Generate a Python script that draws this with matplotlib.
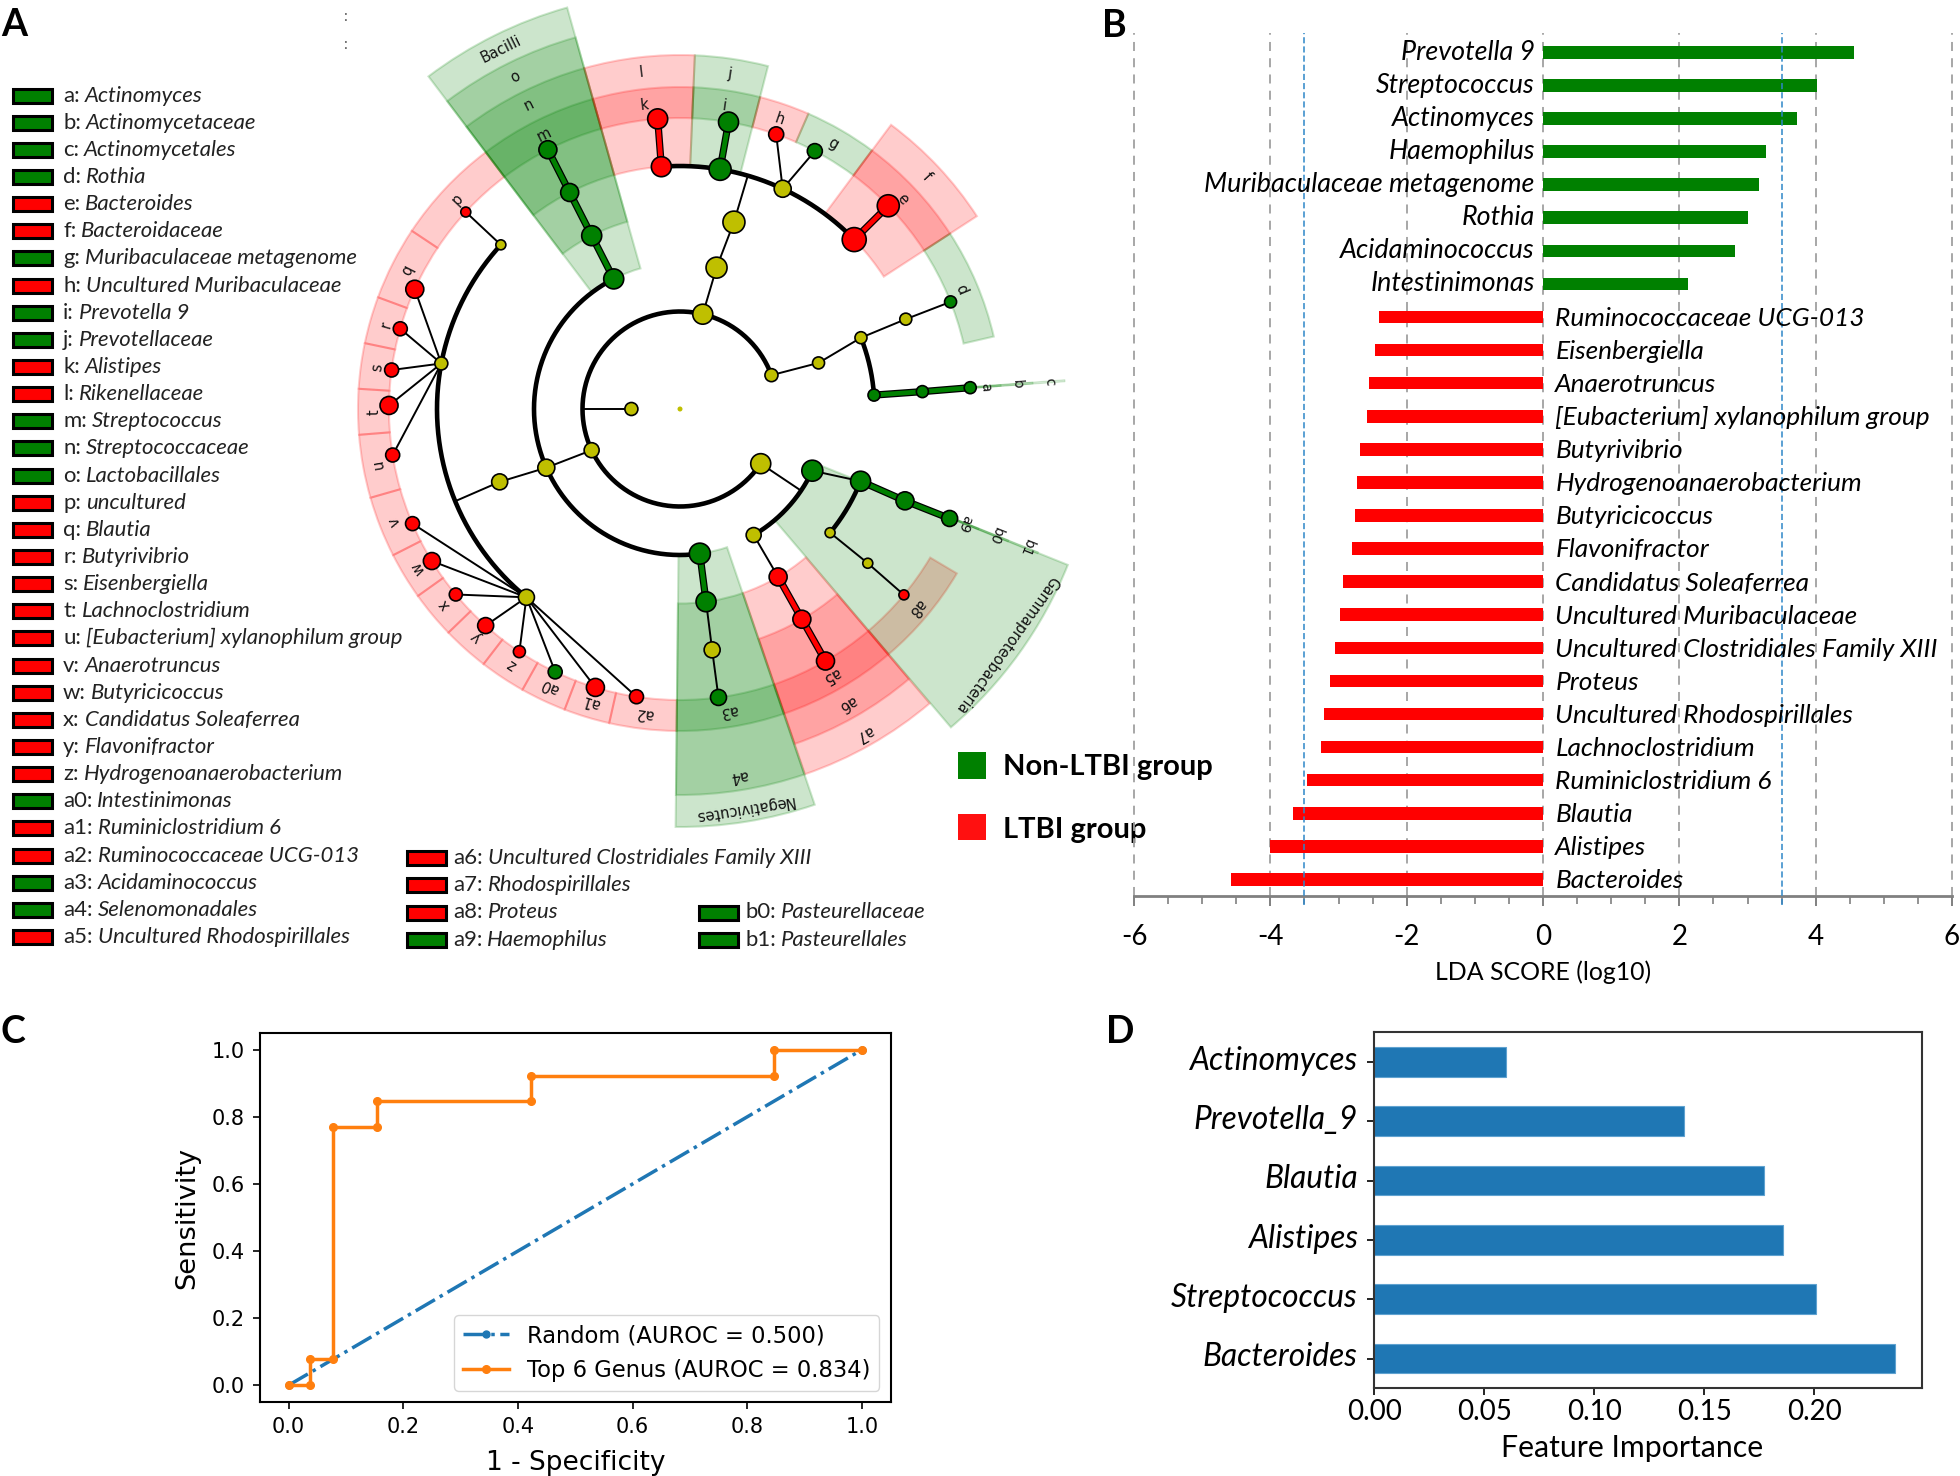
# -*- coding: utf-8 -*-
import numpy as np
import matplotlib
matplotlib.use('Agg')
import matplotlib.pyplot as plt
from matplotlib.patches import Rectangle
from matplotlib.transforms import ScaledTranslation

plt.rcParams['font.family'] = ['Lato', 'DejaVu Sans']
plt.rcParams['axes.unicode_minus'] = False

W, H = 1960, 1476
GREEN = '#008000'
RED = '#ff0000'
YELLOW = '#bfbf00'

# ---- panel A: cladogram, angles in degrees clockwise from top
level_r = [0, 48.6, 97.5, 146, 194.5, 243, 291]

# name, start, end, inner r, outer r, colour, label r
sector_names = ['p', 'q', 'r', 's', 't', 'u', 'v', 'w', 'x', 'y', 'z', 'a0', 'a1', 'a2',
                'Bacilli', 'o', 'n', 'm', 'l', 'k', 'j', 'i', 'h', 'g', 'f', 'e', 'd',
                'a8', 'Gammaproteobacteria', 'a7', 'a6', 'a5', 'Negativicutes', 'a4', 'a3']
sector_start = [303.6, 290.3, 281.8, 273.6, 265.4, 254, 243, 234.5, 226, 217.6, 209.3, 201, 192.7, 180.6,
                322.9, 322.9, 322.9, 322.9, 344.3, 344.3, 2.4, 2.4, 14.4, 23.5, 36.6, 36.6, 57,
                120.7, 111.9, 139.7, 139.7, 139.7, 161.2, 161.2, 161.2]
sector_end = [322.9, 303.6, 290.3, 281.8, 273.6, 265.4, 254, 243, 234.5, 226, 217.6, 209.3, 201, 192.7,
              344.3, 344.3, 344.3, 344.3, 362.4, 362.4, 14.4, 14.4, 23.5, 36.6, 57, 57, 77,
              139.6, 139.6, 161.1, 161.1, 161.1, 180.6, 180.6, 180.6]
sector_r0 = [291] * 14 + [146, 194.5, 243, 291, 243, 291, 243, 291, 291, 291, 243, 291, 291,
                          291, 146, 194.5, 243, 291, 146, 194.5, 291]
sector_r1 = [322] * 14 + [417, 386, 354, 322, 354, 322, 354, 322, 322, 322, 354, 322, 322,
                          322, 418, 386, 354, 322, 418, 386, 322]
sector_col = ['r'] * 14 + ['g', 'g', 'g', 'g', 'r', 'r', 'g', 'g', 'r', 'g', 'r', 'r', 'g',
                           'r', 'g', 'r', 'r', 'r', 'g', 'g', 'g']
sector_label_r = [306] * 14 + [402, 371, 339, 306, 339, 306, 339, 306, 306, 306, 339, 306, 306,
                               309, 403, 373, 339, 306, 404, 372, 306]

# narrow sectors, only a sliver is visible
sliver_names = ['a', 'b', 'c', 'a9', 'b0', 'b1']
sliver_theta = [85.8, 85.8, 85.8, 111.9, 111.9, 111.9]
sliver_r1 = [322, 354, 386, 322, 354, 386]
sliver_label_r = [306, 338, 371, 307, 340, 373]

# nodes
node_theta = [0, 270,
              13.5, 69.7, 124.1, 245,
              333, 14.5, 71.6, 115, 149.7, 172.2, 246.3,
              333, 16.1, 68.5, 85.9, 111.8, 129.5, 149.7, 172.3, 248,
              333, 355.6, 9.5, 25, 45.8, 68.3, 85.9, 112.2, 129.4, 149.9, 172.4, 219.2, 280.8, 312.5,
              333, 355.6, 9.6, 19.3, 27.6, 45.7, 68.4, 85.8, 112.1, 129.7, 150, 172.4,
              188.6, 196.9, 205.4, 213.5, 221.9, 230.4, 238.5, 246.8, 260.9, 270.7, 277.7, 286, 294.3, 312.6]
node_level = [0, 1] + [2] * 4 + [3] * 7 + [4] * 9 + [5] * 14 + [6] * 26
node_col = ['y', 'y',
            'y', 'y', 'y', 'y',
            'g', 'y', 'y', 'g', 'y', 'g', 'y',
            'g', 'y', 'y', 'g', 'g', 'y', 'r', 'g', 'y',
            'g', 'r', 'g', 'y', 'r', 'y', 'g', 'g', 'y', 'r', 'y', 'y', 'y', 'y',
            'g', 'r', 'g', 'r', 'g', 'r', 'g', 'g', 'g', 'r', 'r', 'g',
            'r', 'r', 'g', 'r', 'r', 'r', 'r', 'r', 'r', 'r', 'r', 'r', 'r', 'r']
node_d = [5, 13,
          20, 13, 20, 15,
          20, 21, 12, 21, 15, 21, 17,
          20, 22, 12, 12, 20, 10, 18, 20, 16,
          18, 20, 22, 17, 24, 12, 12, 18, 10, 18, 16, 16, 13, 10,
          18, 20, 20, 15, 15, 22, 12, 12, 16, 10, 18, 16,
          14, 18, 14, 12, 16, 13, 17, 14, 14, 18, 14, 14, 18, 10]

# thick black arcs: start, end, level
arc_start = [69.7, -27, 115, 68.5, 111.8, -4.4, 219.2]
arc_end = [-235.9, -187.8, 149.7, 85.9, 129.5, 45.8, 312.5]
arc_level = [2, 3, 3, 4, 4, 5, 5]

# thin black branches
thin_theta = [[270, 270], [13.5, 14.5, 16.1, 16.2], [69.7, 71.6, 68.5, 68.3, 68.4],
              [245, 246.3, 248, 247.7], [124.1, 124], [115, 111.8], [129.5, 129.4, 129.7],
              [172.3, 172.4, 172.4], [149.7, 149.7], [25, 19.3], [25, 27.6], [312.5, 312.6],
              [280.8, 260.9], [280.8, 270.7], [280.8, 277.7], [280.8, 286], [280.8, 294.3],
              [219.2, 188.6], [219.2, 196.9], [219.2, 205.4], [219.2, 213.5], [219.2, 221.9],
              [219.2, 230.4], [219.2, 238.5], [219.2, 246.8]]
thin_level = [[1, 2], [2, 3, 4, 5], [2, 3, 4, 5, 6],
              [2, 3, 4, 5], [2, 3], [3, 4], [4, 5, 6],
              [4, 5, 6], [3, 4], [5, 6], [5, 6], [5, 6]] + [[5, 6]] * 13

# thick coloured branches
chain_theta = [[333, 333, 333, 333], [355.6, 355.6], [9.5, 9.6], [45.8, 45.7], [85.9, 85.9, 85.8],
               [111.8, 112.2, 112.1], [149.7, 149.9, 150], [172.2, 172.3]]
chain_level = [[3, 4, 5, 6], [5, 6], [5, 6], [5, 6], [4, 5, 6], [4, 5, 6], [4, 5, 6], [3, 4]]
chain_col = ['g', 'r', 'g', 'r', 'g', 'g', 'r', 'g']

# legend of panel A
legend_keys = ['a', 'b', 'c', 'd', 'e', 'f', 'g', 'h', 'i', 'j', 'k', 'l', 'm', 'n', 'o', 'p', 'q', 'r', 's',
               't', 'u', 'v', 'w', 'x', 'y', 'z', 'a0', 'a1', 'a2', 'a3', 'a4', 'a5',
               'a6', 'a7', 'a8', 'a9', 'b0', 'b1']
legend_names = ['Actinomyces', 'Actinomycetaceae', 'Actinomycetales', 'Rothia', 'Bacteroides', 'Bacteroidaceae',
                'Muribaculaceae metagenome', 'Uncultured Muribaculaceae', 'Prevotella 9', 'Prevotellaceae',
                'Alistipes', 'Rikenellaceae', 'Streptococcus', 'Streptococcaceae', 'Lactobacillales', 'uncultured',
                'Blautia', 'Butyrivibrio', 'Eisenbergiella', 'Lachnoclostridium', '[Eubacterium] xylanophilum group',
                'Anaerotruncus', 'Butyricicoccus', 'Candidatus Soleaferrea', 'Flavonifractor',
                'Hydrogenoanaerobacterium', 'Intestinimonas', 'Ruminiclostridium 6', 'Ruminococcaceae UCG-013',
                'Acidaminococcus', 'Selenomonadales', 'Uncultured Rhodospirillales',
                'Uncultured Clostridiales Family XIII', 'Rhodospirillales', 'Proteus', 'Haemophilus',
                'Pasteurellaceae', 'Pasteurellales']
legend_cols = list('ggggrrgrggrrgggrrrrrrrrrrr') + list('grrggr') + list('rrrggg')

# ---- panel B
lda_names = ['Prevotella 9', 'Streptococcus', 'Actinomyces', 'Haemophilus', 'Muribaculaceae metagenome',
             'Rothia', 'Acidaminococcus', 'Intestinimonas',
             'Ruminococcaceae UCG-013', 'Eisenbergiella', 'Anaerotruncus', '[Eubacterium] xylanophilum group',
             'Butyrivibrio', 'Hydrogenoanaerobacterium', 'Butyricicoccus', 'Flavonifractor',
             'Candidatus Soleaferrea', 'Uncultured Muribaculaceae', 'Uncultured Clostridiales Family XIII',
             'Proteus', 'Uncultured Rhodospirillales', 'Lachnoclostridium', 'Ruminiclostridium 6', 'Blautia',
             'Alistipes', 'Bacteroides']
lda_values = [4.56, 4.02, 3.73, 3.27, 3.17, 3.0, 2.82, 2.13,
              -2.41, -2.46, -2.55, -2.58, -2.68, -2.73, -2.76, -2.80, -2.93, -2.98, -3.05, -3.13,
              -3.22, -3.26, -3.46, -3.67, -4.0, -4.57]

# ---- panel C
fpr = [0, 0.038, 0.038, 0.077, 0.077, 0.154, 0.154, 0.423, 0.423, 0.846, 0.846, 1]
tpr = [0, 0, 0.077, 0.077, 0.769, 0.769, 0.846, 0.846, 0.923, 0.923, 1, 1]

# ---- panel D
imp_names = ['Bacteroides', 'Streptococcus', 'Alistipes', 'Blautia', 'Prevotella_9', 'Actinomyces']
imp_values = [0.2369, 0.201, 0.1858, 0.1773, 0.1409, 0.0601]


def px_axes(fig, left, top, right, bottom, **kw):
    return fig.add_axes([left / W, 1 - bottom / H, (right - left) / W, (bottom - top) / H], **kw)


def col(c):
    return {'g': GREEN, 'r': RED, 'y': YELLOW}[c]


fig = plt.figure(figsize=(W / 100, H / 100), dpi=100)

# overlay in pixel coordinates for loose labels and legends
ov = px_axes(fig, 0, 0, W, H)
ov.set_xlim(0, W)
ov.set_ylim(H, 0)
ov.axis('off')

# cladogram
RMAX = 440
CX, CY = 680, 409
ax = px_axes(fig, CX - RMAX, CY - RMAX, CX + RMAX, CY + RMAX, projection='polar')
ax.set_theta_zero_location('N')
ax.set_theta_direction(-1)
ax.set_ylim(0, RMAX)
ax.axis('off')
ax.patch.set_alpha(0)

for name, t0, t1, r0, r1, c, lr in zip(sector_names, sector_start, sector_end, sector_r0, sector_r1,
                                       sector_col, sector_label_r):
    ax.bar(np.radians((t0 + t1) / 2), r1 - r0, width=np.radians(t1 - t0), bottom=r0, color=col(c),
           edgecolor=col(c), alpha=0.2, linewidth=1.5, zorder=1)
    mid = (t0 + t1) / 2
    ax.text(np.radians(mid), lr, name, rotation=-mid, rotation_mode='anchor', ha='center', va='center',
            fontsize=10.5, family='DejaVu Sans', color='#111111', zorder=8)

for name, t, r1, lr in zip(sliver_names, sliver_theta, sliver_r1, sliver_label_r):
    ax.bar(np.radians(t), r1 - 291, width=np.radians(0.3), bottom=291, color=GREEN, edgecolor=GREEN,
           alpha=0.15, linewidth=0.8, zorder=1)
    ax.text(np.radians(t), lr, name, rotation=-t, rotation_mode='anchor', ha='center', va='center',
            fontsize=10, family='DejaVu Sans', color='#111111', zorder=8)

for t0, t1, lv in zip(arc_start, arc_end, arc_level):
    th = np.radians(np.linspace(t0, t1, 200))
    ax.plot(th, np.full(200, level_r[lv]), color='k', lw=3.3, solid_capstyle='round', zorder=3)

for ts, ls in zip(thin_theta, thin_level):
    ax.plot(np.radians(ts), [level_r[i] for i in ls], color='k', lw=1.4, zorder=3)

for ts, ls, c in zip(chain_theta, chain_level, chain_col):
    rs = [level_r[i] for i in ls]
    ax.plot(np.radians(ts), rs, color='k', lw=5.2, zorder=4)
    ax.plot(np.radians(ts), rs, color=col(c), lw=3.4, zorder=4)

# the root dot has no outline
edge_w = [0] + [1.2] * (len(node_d) - 1)
ax.scatter(np.radians(node_theta), [level_r[i] for i in node_level], s=(np.array(node_d) * 0.72) ** 2,
           c=[col(c) for c in node_col], edgecolors='k', linewidths=edge_w, zorder=6)

# stray dots above the cladogram
ov.text(345, 17, ':', fontsize=11, color='#555555', ha='center', va='center')
ov.text(345, 45, ':', fontsize=11, color='#555555', ha='center', va='center')

# legend of panel A
renderer = fig.canvas.get_renderer()
rows = []
row_y = np.linspace(95.5, 937, 32)
for i in range(32):
    rows.append((13, row_y[i], 63))
for y in [858, 885, 912.5, 940]:
    rows.append((407, y, 453))
for y in [912.5, 940]:
    rows.append((699, y, 745))

for (x, y, tx), key, name, c in zip(rows, legend_keys, legend_names, legend_cols):
    ov.add_patch(Rectangle((x, y - 7), 39, 14, facecolor=col(c), edgecolor='k', linewidth=2.2))
    t = ov.text(tx, y, key + ':', fontsize=15.9, va='center', ha='left', color='#222222')
    w = t.get_window_extent(renderer).width
    ov.text(tx + w + 5, y, name, fontsize=15.9, style='italic', va='center', ha='left', color='#222222')

# group legend
ov.add_patch(Rectangle((958, 752), 28, 27, facecolor=GREEN, edgecolor='none'))
ov.add_patch(Rectangle((958, 814), 28, 26, facecolor='#ff1010', edgecolor='none'))
ov.text(1003, 767, 'Non-LTBI group', fontsize=21, fontweight='bold', va='center', ha='left', zorder=9)
ov.text(1003, 830, 'LTBI group', fontsize=21, fontweight='bold', va='center', ha='left', zorder=9)

# panel letters
for letter, x, y in [('A', 1, 25), ('B', 1102, 26), ('C', 1, 1032), ('D', 1106, 1032)]:
    ov.text(x, y, letter, fontsize=27, fontweight='bold', va='center', ha='left')

# panel B
axb = px_axes(fig, 1134, 33, 1952, 896)
axb.patch.set_alpha(0)
ypos = np.arange(len(lda_values))
axb.barh(ypos, lda_values, height=0.38, color=[GREEN if v > 0 else RED for v in lda_values], zorder=2)
axb.set_xlim(-6, 6)
axb.set_ylim(25.5, -0.584)
axb.set_yticks([])
for s in ['left', 'right', 'top']:
    axb.spines[s].set_visible(False)
axb.spines['bottom'].set_color('#808080')
axb.spines['bottom'].set_linewidth(2)
axb.set_xticks(np.arange(-6, 7, 2))
axb.set_xticks(np.arange(-6, 6.5, 0.5), minor=True)
axb.tick_params(axis='x', which='major', length=7, width=1.4, color='#808080', labelsize=20, pad=13)
axb.tick_params(axis='x', which='minor', length=6, width=1.2, color='#808080')
for v in np.arange(-6, 7, 2):
    axb.axvline(v, color='#a0a0a0', lw=1.3, ls=(0, (5, 4)), zorder=1, clip_on=False)
for v in [-3.5, 3.5]:
    axb.axvline(v, color='#2e86c8', lw=1.1, ls=(0, (4, 2)), ymin=-0.01, zorder=3, clip_on=False)
axb.set_xlabel('LDA SCORE (log10)', fontsize=17.9, labelpad=8)
for i, (name, v) in enumerate(zip(lda_names, lda_values)):
    if v > 0:
        axb.text(-0.12, i, name, fontsize=19.4, style='italic', ha='right', va='center', zorder=5)
    else:
        axb.text(0.18, i + 0.04, name, fontsize=18.9, style='italic', ha='left', va='center', zorder=5)

# panel C
axc = px_axes(fig, 260, 1033, 890.5, 1402)
axc.plot([0, 1], [0, 1], '-.', marker='.', ms=10, lw=2.5, color='tab:blue', label='Random (AUROC = 0.500)')
axc.plot(fpr, tpr, '-', marker='.', ms=11, lw=2.5, color='tab:orange', label='Top 6 Genus (AUROC = 0.834)')
axc.set_xticks(np.arange(0, 1.01, 0.2))
axc.set_yticks(np.arange(0, 1.01, 0.2))
for lab in axc.get_xticklabels() + axc.get_yticklabels():
    lab.set_family('DejaVu Sans')
axc.tick_params(labelsize=15, length=5, width=1.2, pad=6)
axc.set_xlabel('1 - Specificity', fontsize=19, family='DejaVu Sans', labelpad=9)
axc.set_ylabel('Sensitivity', fontsize=19.6, family='DejaVu Sans', labelpad=8)
leg = axc.legend(loc='lower right', prop={'family': 'DejaVu Sans', 'size': 16.3})
for s in axc.spines.values():
    s.set_linewidth(1.5)

# panel D
axd = px_axes(fig, 1374.3, 1032.3, 1921.7, 1388.3)
axd.barh(range(len(imp_values)), imp_values, height=0.5, color='#1f77b4', edgecolor='#5fa2d0', linewidth=0.8)
axd.set_xlim(0, 0.2489)
axd.set_ylim(-0.5, 5.5)
axd.set_xticks([0, 0.05, 0.1, 0.15, 0.2])
axd.set_xticklabels(['0.00', '0.05', '0.10', '0.15', '0.20'])
axd.set_yticks(range(len(imp_names)))
axd.set_yticklabels(imp_names, style='italic', fontsize=22.8)
axd.tick_params(axis='x', labelsize=20, length=5, width=1.2, pad=3)
axd.tick_params(axis='y', length=5, width=1.2, pad=7)
# names sit a little above their bars
for lab in axd.get_yticklabels():
    lab.set_transform(lab.get_transform() + ScaledTranslation(0, 3 / 72, fig.dpi_scale_trans))
axd.set_xlabel('Feature Importance', fontsize=21.8, labelpad=6, x=0.47)
for s in axd.spines.values():
    s.set_linewidth(1.5)
    s.set_color('#333333')

fig.savefig('out.png', dpi=100)
